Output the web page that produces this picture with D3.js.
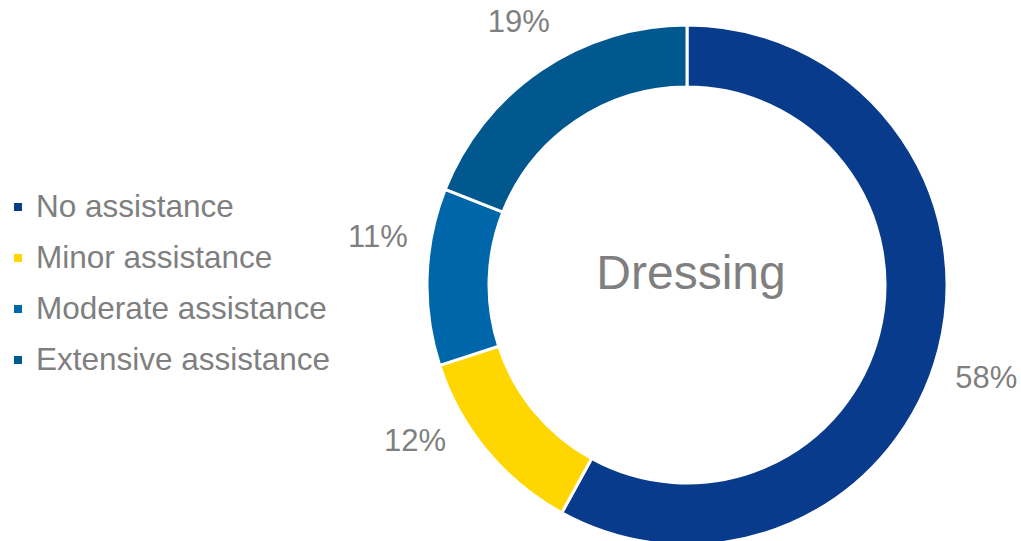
<html>
    <head>
        <style>
            body { margin: 0; background: #fff; }
            text { font-family: "Liberation Sans", Arial, sans-serif; fill: #7f7f7f; }
        </style>
    </head>
    <body>
        <svg id="container" width="1021" height="541"></svg>
    </body>
    <script src="https://d3js.org/d3.v7.min.js" charset="utf-8"></script>
    <script>
        let categories = ["No assistance", "Minor assistance", "Moderate assistance", "Extensive assistance"]
        let values = [58, 12, 11, 19]
        let colors = ["#083b8c", "#ffd600", "#0066aa", "#00588e"]
        let title = "Dressing"

        let data = categories.map((c, i) => ({ category: c, value: values[i] }))

        let svg = d3.select("#container")
        let cx = 687, cy = 285
        let outerR = 260, innerR = 198, labelR = 313
        // small angular nudges (degrees) so labels sit like the original's best-fit placement
        let labelShift = [2.6, 9.9, 7.2, 1.7]

        let colorScale = d3.scaleOrdinal()
            .domain(categories)
            .range(colors)

        let pie = d3.pie().value(d => d.value).sort(null)
        let arc = d3.arc().outerRadius(outerR).innerRadius(innerR)

        let body = svg.append("g").attr("transform", `translate(${cx},${cy})`)

        let g = body.selectAll(".arc")
            .data(pie(data))
            .enter()
            .append("g")
            .attr("class", "arc")

        g.append("path")
            .attr("d", arc)
            .attr("fill", d => colorScale(d.data.category))
            .attr("stroke", "#fff")
            .attr("stroke-width", 3)

        g.append("text")
            .attr("transform", (d, i) => {
                let a = (d.startAngle + d.endAngle) / 2 + labelShift[i] * Math.PI / 180
                return `translate(${labelR * Math.sin(a)},${-labelR * Math.cos(a)})`
            })
            .attr("text-anchor", "middle")
            .attr("dy", "0.36em")
            .style("font-size", "31px")
            .text(d => d.data.value + "%")

        body.append("text")
            .attr("x", 4)
            .attr("y", 4)
            .attr("text-anchor", "middle")
            .style("font-size", "48px")
            .text(title)

        // legend
        let legend = svg.append("g").attr("transform", "translate(14,207)")
        let rows = legend.selectAll(".row")
            .data(categories)
            .enter()
            .append("g")
            .attr("transform", (d, i) => `translate(0,${i * 51})`)

        rows.append("rect")
            .attr("x", 0)
            .attr("y", -4)
            .attr("width", 8)
            .attr("height", 8)
            .attr("fill", d => colorScale(d))

        rows.append("text")
            .attr("x", 22)
            .attr("y", 0)
            .attr("dy", "0.31em")
            .style("font-size", "31.5px")
            .text(d => d)
    </script>
</html>
